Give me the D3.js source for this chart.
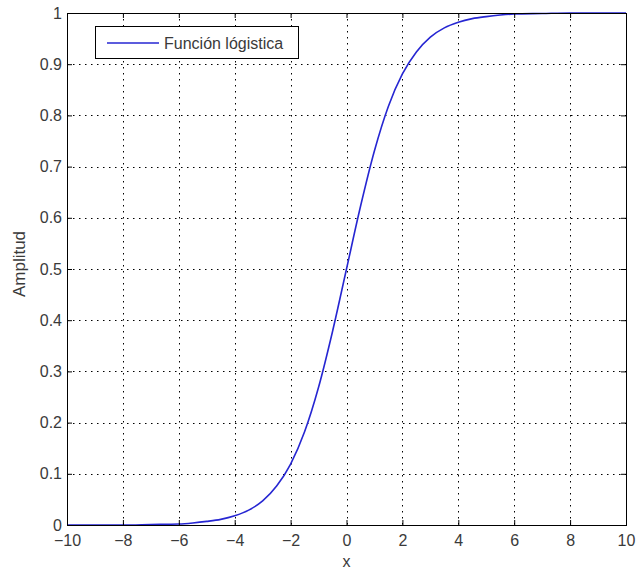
<!DOCTYPE html>
<html>
<head>
<meta charset="utf-8">
<script src="https://cdn.jsdelivr.net/npm/d3@7"></script>
<style>
  body { margin: 0; background: #fff; }
  text { font-family: "Liberation Sans", Arial, sans-serif; fill: #3a3a3a; }
</style>
</head>
<body>
<svg id="chart" width="636" height="569"></svg>
<script>
// values
var xs = [-10, -9, -8, -7, -6, -5.5, -5, -4.5, -4, -3.5, -3, -2.5, -2, -1.5, -1, -0.5,
          0, 0.5, 1, 1.5, 2, 2.5, 3, 3.5, 4, 4.5, 5, 5.5, 6, 7, 8, 9, 10];
var amplitud = [0.000, 0.000, 0.000, 0.001, 0.002, 0.004, 0.007, 0.011, 0.018, 0.029, 0.047, 0.076, 0.119, 0.182, 0.269, 0.378,
                0.500, 0.622, 0.731, 0.818, 0.881, 0.924, 0.953, 0.971, 0.982, 0.989, 0.993, 0.996, 0.998, 0.999, 1.000, 1.000, 1.000];
var xTicks = [-10, -8, -6, -4, -2, 0, 2, 4, 6, 8, 10];
var yTicks = [0, 0.1, 0.2, 0.3, 0.4, 0.5, 0.6, 0.7, 0.8, 0.9, 1];
var legendLabel = 'Función lógistica';

var svg = d3.select('#chart');
var plotLeft = 67, plotRight = 626, plotTop = 13, plotBottom = 525;
var fontSize = 16;

var x = d3.scaleLinear().domain([-10, 10]).range([plotLeft, plotRight]);
var y = d3.scaleLinear().domain([0, 1]).range([plotBottom, plotTop]);

svg.append('rect')
  .attr('width', 636).attr('height', 569).attr('fill', '#fff');

// grid
var grid = svg.append('g')
  .attr('stroke', '#000')
  .attr('stroke-width', 1)
  .attr('stroke-dasharray', '1.5,4.5');

grid.selectAll('line.gx')
  .data(xTicks.slice(1, -1)).enter()
  .append('line')
  .attr('x1', function (d) { return Math.round(x(d)) + 0.5; })
  .attr('x2', function (d) { return Math.round(x(d)) + 0.5; })
  .attr('y1', plotTop).attr('y2', plotBottom);

grid.selectAll('line.gy')
  .data(yTicks.slice(1, -1)).enter()
  .append('line')
  .attr('y1', function (d) { return Math.round(y(d)) + 0.5; })
  .attr('y2', function (d) { return Math.round(y(d)) + 0.5; })
  .attr('x1', plotLeft).attr('x2', plotRight);

// curve
var line = d3.line()
  .x(function (d, i) { return x(xs[i]); })
  .y(function (d) { return y(d); })
  .curve(d3.curveMonotoneX);

svg.append('path')
  .datum(amplitud)
  .attr('d', line)
  .attr('fill', 'none')
  .attr('stroke', '#2626d2')
  .attr('stroke-width', 1.6);

// axes (ticks inside, on all four sides)
var tickLen = 5;
var axisBottom = d3.axisBottom(x).tickValues(xTicks).tickSize(-tickLen).tickPadding(10)
  .tickFormat(function (d) { return d < 0 ? '\u2212' + Math.abs(d) : d; });
var axisTop = d3.axisTop(x).tickValues(xTicks).tickSize(-tickLen).tickFormat('');
var axisLeft = d3.axisLeft(y).tickValues(yTicks).tickSize(-tickLen).tickPadding(5)
  .tickFormat(function (d) { return d3.format('')(d); });
var axisRight = d3.axisRight(y).tickValues(yTicks).tickSize(-tickLen).tickFormat('');

function style(g) {
  g.select('.domain').remove();
  g.selectAll('line').attr('stroke', '#000');
  g.selectAll('text').attr('font-size', fontSize).attr('fill', '#3a3a3a')
    .style('font-family', '"Liberation Sans", Arial, sans-serif');
}

svg.append('g').attr('transform', 'translate(0,' + plotBottom + ')').call(axisBottom).call(style);
svg.append('g').attr('transform', 'translate(0,' + plotTop + ')').call(axisTop).call(style);
svg.append('g').attr('transform', 'translate(' + plotLeft + ',0)').call(axisLeft).call(style);
svg.append('g').attr('transform', 'translate(' + plotRight + ',0)').call(axisRight).call(style);

svg.append('rect')
  .attr('x', plotLeft + 0.5).attr('y', plotTop + 0.5)
  .attr('width', plotRight - plotLeft).attr('height', plotBottom - plotTop)
  .attr('fill', 'none').attr('stroke', '#000').attr('stroke-width', 1);

// labels
svg.append('text')
  .attr('x', x(0)).attr('y', 567)
  .attr('text-anchor', 'middle').attr('font-size', fontSize)
  .text('x');

svg.append('text')
  .attr('transform', 'translate(25,264) rotate(-90)')
  .attr('text-anchor', 'middle').attr('font-size', 17)
  .text('Amplitud');

// legend
var legend = svg.append('g');
legend.append('rect')
  .attr('x', 95.5).attr('y', 26.5).attr('width', 203).attr('height', 32)
  .attr('fill', '#fff').attr('stroke', '#000').attr('stroke-width', 1);
legend.append('line')
  .attr('x1', 107).attr('x2', 159).attr('y1', 43).attr('y2', 43)
  .attr('stroke', '#2626d2').attr('stroke-width', 1.6);
legend.append('text')
  .attr('x', 164).attr('y', 49).attr('font-size', fontSize)
  .text(legendLabel);
</script>
</body>
</html>
